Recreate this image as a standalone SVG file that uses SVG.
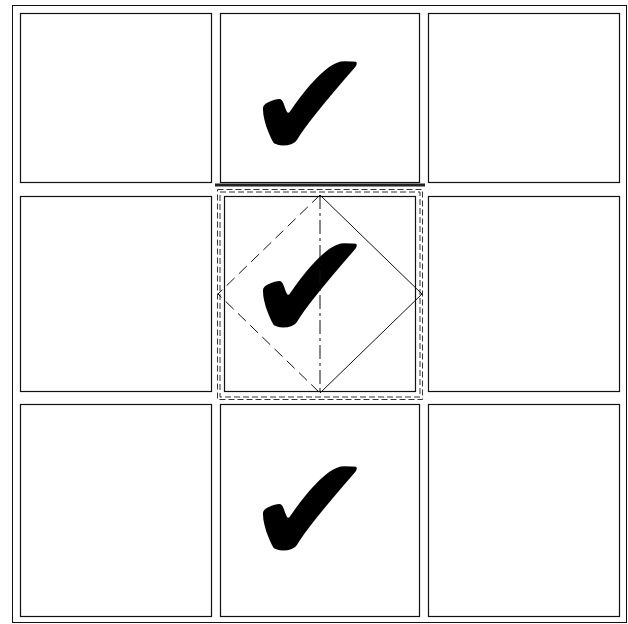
<svg xmlns="http://www.w3.org/2000/svg" width="628" height="624" viewBox="0 0 628 624">
<style>
.cell{fill:#fff;stroke:#111;stroke-width:1.2}
.chk{font-family:"DejaVu Sans",sans-serif;font-size:155px;fill:#000}
.dash{fill:none;stroke:#333;stroke-width:1;stroke-dasharray:6,3}
</style>
<rect width="628" height="624" fill="#fff"/>
<rect id="frame" x="12.5" y="5.5" width="614" height="617" fill="none" stroke="#111" stroke-width="1"/>
<g id="cell-r1c1"><rect class="cell" x="20.5" y="13.5" width="191" height="169"/></g>
<g id="cell-r1c2"><rect class="cell" x="220.5" y="13.5" width="199" height="169"/>
<text class="chk" x="310" y="158.5" text-anchor="middle">✔</text></g>
<g id="cell-r1c3"><rect class="cell" x="428.5" y="13.5" width="191" height="169"/></g>
<g id="cell-r2c1"><rect class="cell" x="20.5" y="196.5" width="191" height="195"/></g>
<g id="cell-r2c2">
<rect x="215" y="183.5" width="210" height="3" fill="#222"/>
<rect class="dash" x="217.5" y="189.5" width="205" height="210"/>
<rect class="dash" x="220" y="192" width="200" height="205"/>
<rect class="cell" x="224.5" y="196.5" width="191" height="195"/>
<text class="chk" x="310" y="340.5" text-anchor="middle">✔</text>
<polyline points="320,195 422,294 320,393" fill="none" stroke="#111" stroke-width="1"/>
<polyline points="320,195 218,294 320,393" fill="none" stroke="#111" stroke-width="1" stroke-dasharray="11,6"/>
<line x1="320" y1="195" x2="320" y2="393" stroke="#111" stroke-width="1" stroke-dasharray="14,4,3,4"/>
</g>
<g id="cell-r2c3"><rect class="cell" x="428.5" y="196.5" width="191" height="195"/></g>
<g id="cell-r3c1"><rect class="cell" x="20.5" y="404.5" width="191" height="212"/></g>
<g id="cell-r3c2"><rect class="cell" x="220.5" y="404.5" width="199" height="212"/>
<text class="chk" x="310" y="564" text-anchor="middle">✔</text></g>
<g id="cell-r3c3"><rect class="cell" x="428.5" y="404.5" width="191" height="212"/></g>
<g id="connectors"></g>
</svg>
